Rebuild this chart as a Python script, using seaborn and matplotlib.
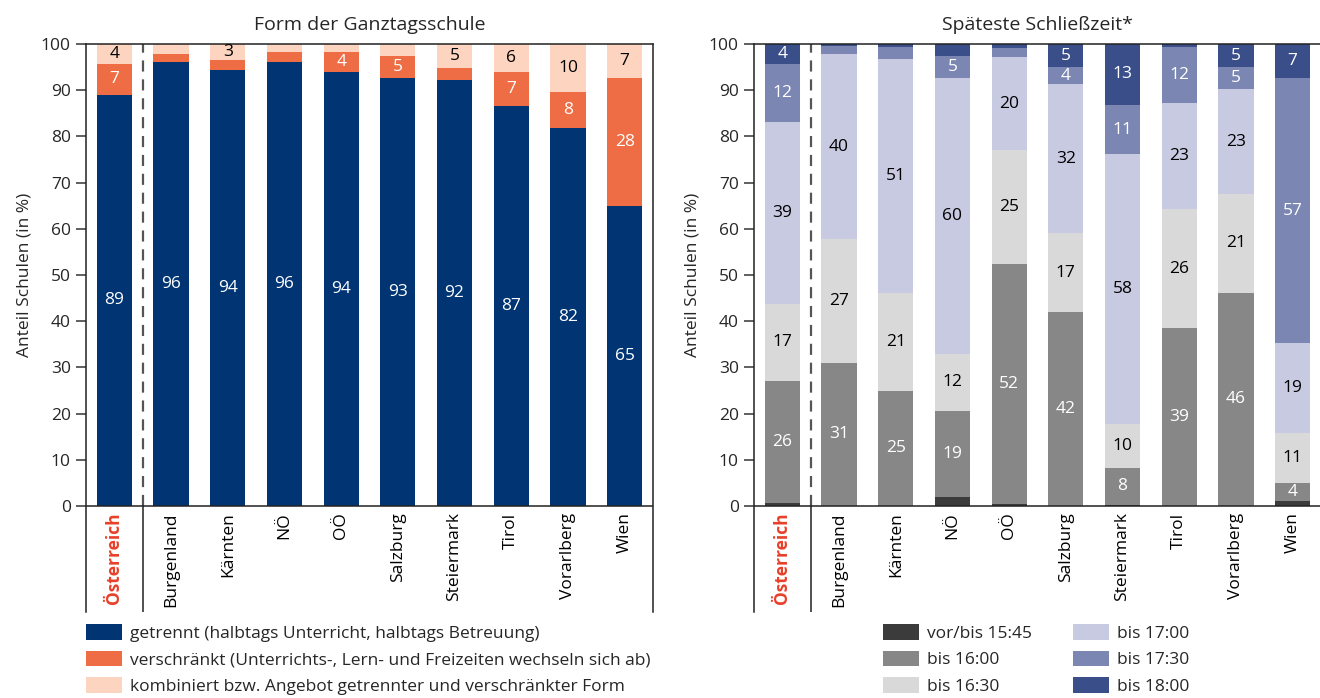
import numpy as np
import pandas as pd
import matplotlib
matplotlib.use('Agg')
import matplotlib.pyplot as plt
from matplotlib.patches import Patch
import seaborn as sns

# 데이터
regions = ['Österreich', 'Burgenland', 'Kärnten', 'NÖ', 'OÖ', 'Salzburg',
           'Steiermark', 'Tirol', 'Vorarlberg', 'Wien']

# Form der Ganztagsschule (in %)
getrennt = [89.0, 96.1, 94.4, 96.1, 93.9, 92.6, 92.2, 86.6, 81.8, 64.9]
verschraenkt = [6.7, 1.7, 2.2, 2.2, 4.4, 4.9, 2.6, 7.3, 7.8, 27.7]
kombiniert = [4.3, 2.2, 3.4, 1.7, 1.7, 2.5, 5.2, 6.1, 10.4, 7.4]
form_names = ['getrennt (halbtags Unterricht, halbtags Betreuung)',
              'verschränkt (Unterrichts-, Lern- und Freizeiten wechseln sich ab)',
              'kombiniert bzw. Angebot getrennter und verschränkter Form']

# Späteste Schließzeit (in %)
bis_1545 = [0.7, 0.0, 0.0, 2.0, 0.4, 0.0, 0.3, 0.0, 0.0, 1.1]
bis_1600 = [26.4, 31.0, 24.9, 18.6, 51.9, 41.9, 7.9, 38.6, 46.2, 3.9]
bis_1630 = [16.7, 26.7, 21.1, 12.4, 24.7, 17.1, 9.6, 25.6, 21.3, 10.8]
bis_1700 = [39.4, 40.1, 50.7, 59.6, 20.2, 32.3, 58.3, 23.0, 22.7, 19.4]
bis_1730 = [12.4, 1.7, 2.6, 4.8, 1.9, 3.7, 10.7, 12.2, 4.8, 57.4]
bis_1800 = [4.4, 0.5, 0.7, 2.6, 0.9, 5.0, 13.2, 0.6, 5.0, 7.4]
zeit_names = ['vor/bis 15:45', 'bis 16:00', 'bis 16:30',
              'bis 17:00', 'bis 17:30', 'bis 18:00']

# 색상
form_colors = ['#003473', '#ee6d45', '#fcd4c0']
form_text = ['white', 'white', 'black']
zeit_colors = ['#3b3b3b', '#878787', '#d9d9d9', '#c8cae2', '#7b86b2', '#3a4f8a']
zeit_text = ['white', 'white', 'black', 'black', 'white', 'white']
red = '#e8402a'

sns.set_style('white')
plt.rcParams['font.family'] = ['Open Sans', 'DejaVu Sans']
FS = 12.5

YMIN = -22.94
fig = plt.figure(figsize=(13.2, 6.98), dpi=100)
ax1 = fig.add_axes([86 / 1320, 1 - 612 / 698, 567 / 1320, 568 / 698])
ax2 = fig.add_axes([754 / 1320, 1 - 612 / 698, 567 / 1320, 568 / 698])


def stacked(ax, layers, colors, txtcolors, title):
    bottom = np.zeros(len(regions))
    for vals, c, tc in zip(layers, colors, txtcolors):
        df = pd.DataFrame({'region': regions, 'value': vals})
        sns.barplot(data=df, x='region', y='value', order=regions, color=c,
                    saturation=1, width=0.62, bottom=bottom, linewidth=0,
                    ax=ax, errorbar=None)
        labels = [f'{v:.0f}' if v >= 2.95 else '' for v in vals]
        ax.bar_label(ax.containers[-1], labels=labels, label_type='center',
                     color=tc, fontsize=FS)
        bottom = bottom + np.array(vals)

    ax.set_xlim(-0.5, 9.5)
    ax.set_ylim(YMIN, 100)
    ax.set_yticks(range(0, 101, 10))
    ax.set_xticks([])
    ax.set_xlabel('')
    ax.set_ylabel('Anteil Schulen (in %)', fontsize=FS)
    ax.yaxis.set_label_coords(-0.095, (50 - YMIN) / (100 - YMIN))
    ax.tick_params(axis='y', left=True, length=7.5, width=1.2, color='#444444',
                   pad=3.5, labelsize=FS)
    for s in ['top', 'left', 'right']:
        ax.spines[s].set_visible(True)
        ax.spines[s].set_color('#222222')
        ax.spines[s].set_linewidth(1.1)
    ax.spines['bottom'].set_visible(False)
    ax.axhline(0, color='#222222', lw=1.1, zorder=5)
    # 구분선 (오스트리아 | 주)
    ax.plot([0.5, 0.5], [0, 100], color='#555555', lw=1.6, ls=(0, (5, 3.5)))
    ax.plot([0.5, 0.5], [YMIN, 0], color='#222222', lw=1.1)
    ax.set_title(title, fontsize=14, pad=10)

    # 지역 이름
    for i, r in enumerate(regions):
        if i == 0:
            ax.text(i, -1.4, r, rotation=90, ha='center', va='top',
                    fontsize=FS, color=red, fontweight='bold')
        else:
            ax.text(i, -1.4, r, rotation=90, ha='center', va='top',
                    fontsize=FS, color='black')


stacked(ax1, [getrennt, verschraenkt, kombiniert], form_colors, form_text,
        'Form der Ganztagsschule')
stacked(ax2, [bis_1545, bis_1600, bis_1630, bis_1700, bis_1730, bis_1800],
        zeit_colors, zeit_text, 'Späteste Schließzeit*')

# 범례
h1 = [Patch(facecolor=c, edgecolor='none') for c in form_colors]
fig.legend(h1, form_names, loc='upper left', bbox_to_anchor=(86 / 1320, 1 - 624 / 698),
           frameon=False, fontsize=FS, handlelength=2.07, handleheight=1.0,
           handletextpad=0.45, labelspacing=0.52, borderaxespad=0, borderpad=0)

h2 = [Patch(facecolor=c, edgecolor='none') for c in zeit_colors]
fig.legend(h2, zeit_names, loc='upper left', bbox_to_anchor=(883 / 1320, 1 - 624 / 698),
           frameon=False, fontsize=FS, ncol=2, handlelength=2.07, handleheight=1.0,
           handletextpad=0.45, labelspacing=0.52, columnspacing=2.4,
           borderaxespad=0, borderpad=0)

plt.savefig('out.png', dpi=100)
